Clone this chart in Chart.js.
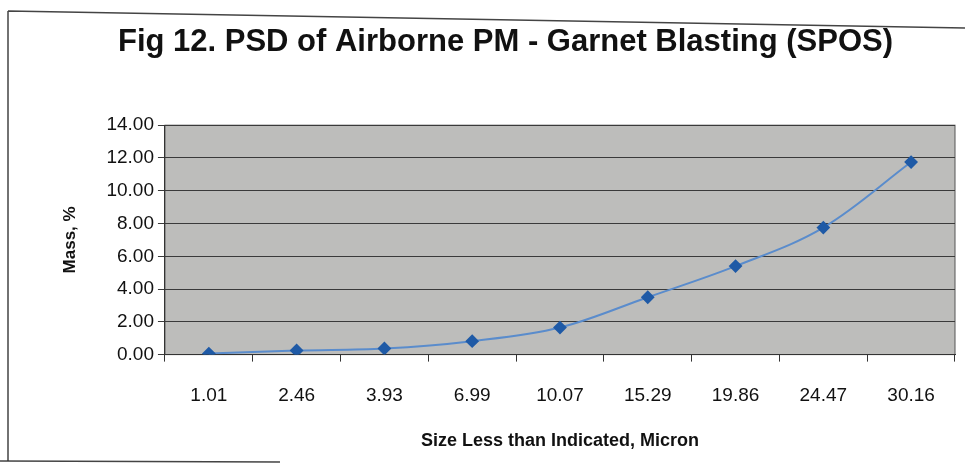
<!DOCTYPE html>
<html>
<head>
<meta charset="utf-8">
<script src="https://cdn.jsdelivr.net/npm/chart.js@4/dist/chart.umd.min.js"></script>
<style>
  html, body { margin: 0; padding: 0; background: #fff; }
  #wrap { width: 965px; height: 476px; position: relative; }
</style>
</head>
<body>
<div id="wrap"><canvas id="chart" width="965" height="476"></canvas></div>
<script>
const sizes = ["1.01", "2.46", "3.93", "6.99", "10.07", "15.29", "19.86", "24.47", "30.16"];
const massPct = [0.06, 0.25, 0.37, 0.82, 1.65, 3.5, 5.4, 7.75, 11.75];
const yTicks = [0, 2, 4, 6, 8, 10, 12, 14];

const FONT = "'Liberation Sans', Arial, sans-serif";

// scanned page edges
const pageFrame = {
  id: "pageFrame",
  beforeDraw(chart) {
    const c = chart.ctx;
    c.save();
    c.fillStyle = "#fff";
    c.fillRect(0, 0, chart.width, chart.height);
    c.strokeStyle = "#444";
    c.lineWidth = 1.5;
    c.beginPath();
    c.moveTo(8, 11); c.lineTo(965, 28);
    c.moveTo(8, 11); c.lineTo(8, 462);
    c.moveTo(0, 461); c.lineTo(280, 462);
    c.stroke();
    c.restore();
  }
};

const plotFill = {
  id: "plotFill",
  beforeDraw(chart) {
    const a = chart.chartArea;
    const c = chart.ctx;
    c.save();
    c.fillStyle = "#bdbdbb";
    c.fillRect(a.left, a.top, a.right - a.left, a.bottom - a.top);
    c.strokeStyle = "#555";
    c.lineWidth = 1;
    c.strokeRect(a.left, a.top, a.right - a.left, a.bottom - a.top);
    c.restore();
  }
};

new Chart(document.getElementById("chart"), {
  type: "line",
  data: {
    labels: sizes,
    datasets: [{
      data: massPct,
      borderColor: "#5a8ccc",
      borderWidth: 2,
      tension: 0.35,
      pointStyle: "rectRot",
      pointRadius: 5.5,
      pointBackgroundColor: "#1f5aa6",
      pointBorderColor: "#1f5aa6"
    }]
  },
  plugins: [pageFrame, plotFill],
  options: {
    responsive: false,
    animation: false,
    layout: { padding: { left: 56, right: 10, top: 24, bottom: 20 } },
    plugins: {
      legend: { display: false },
      tooltip: { enabled: false },
      title: {
        display: true,
        text: "Fig 12. PSD of Airborne PM - Garnet Blasting (SPOS)",
        color: "#111",
        font: { family: FONT, size: 31, weight: "bold" },
        padding: { top: 0, bottom: 64 }
      }
    },
    scales: {
      x: {
        offset: true,
        grid: { offset: true, drawOnChartArea: false, color: "#333", tickLength: 7 },
        border: { color: "#333" },
        ticks: { color: "#111", font: { family: FONT, size: 19 }, padding: 23 },
        title: {
          display: true,
          text: "Size Less than Indicated, Micron",
          color: "#111",
          font: { family: FONT, size: 18, weight: "bold" },
          padding: { top: 0 }
        }
      },
      y: {
        min: 0,
        max: 14,
        afterBuildTicks(axis) { axis.ticks = yTicks.map(v => ({ value: v })); },
        grid: { color: "#3a3a3a", tickLength: 7, lineWidth: 1 },
        border: { color: "#333" },
        ticks: {
          color: "#111",
          font: { family: FONT, size: 19 },
          padding: 4,
          callback: v => Number(v).toFixed(2)
        },
        title: {
          display: true,
          text: "Mass, %",
          color: "#111",
          font: { family: FONT, size: 17, weight: "bold" },
          padding: { bottom: 22 }
        }
      }
    }
  }
});
</script>
</body>
</html>
